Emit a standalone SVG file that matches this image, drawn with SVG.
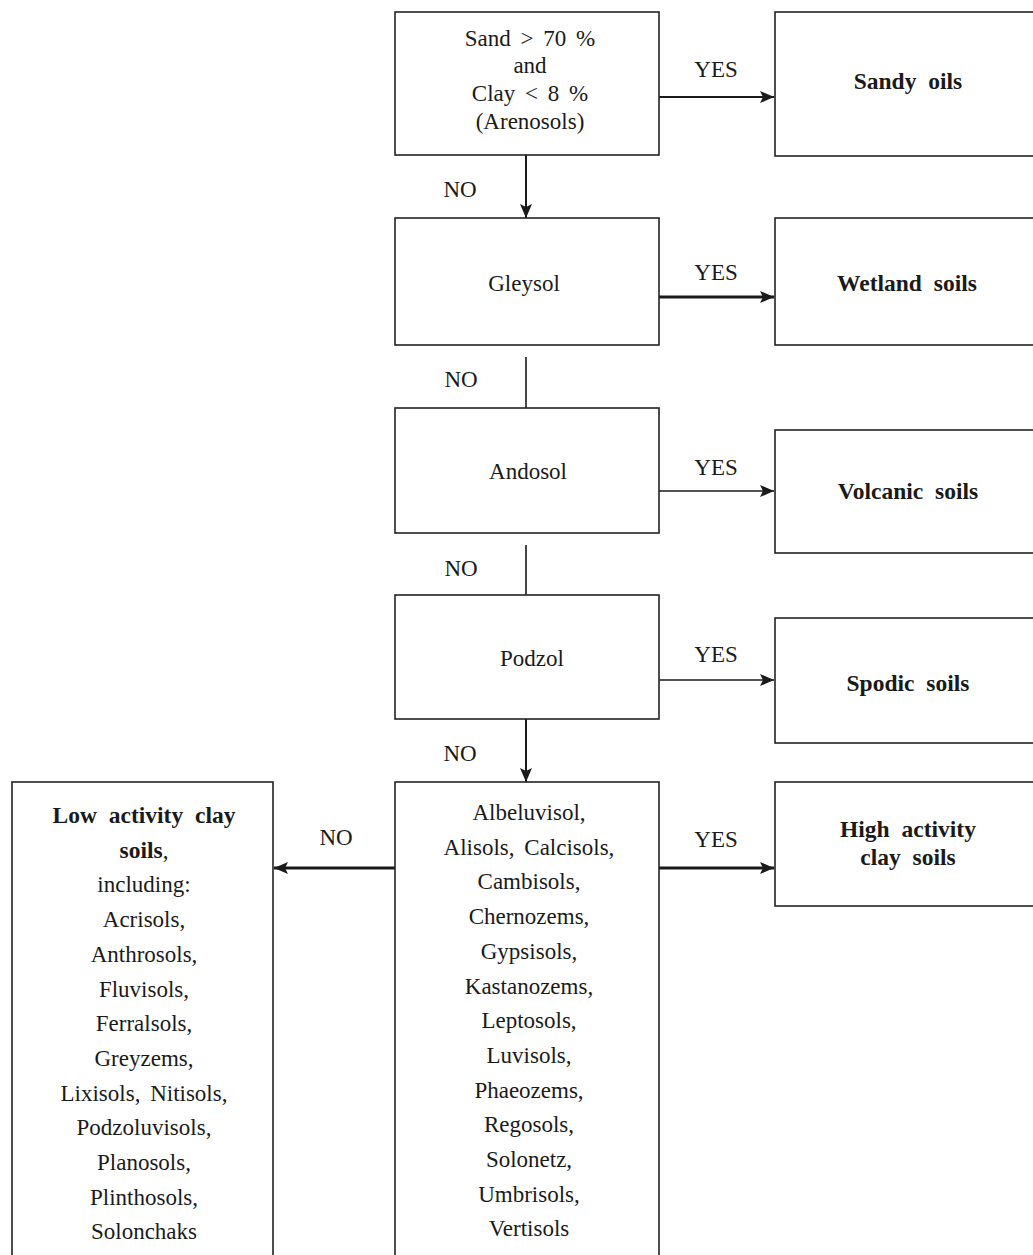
<svg xmlns="http://www.w3.org/2000/svg" width="1033" height="1255" viewBox="0 0 1033 1255">
<style>
  .box { fill: #fff; stroke: #222; stroke-width: 1.6; }
  .t { font-family: "Liberation Serif", "DejaVu Serif", serif; font-size: 23px; fill: #1a1a1a; text-anchor: middle; word-spacing: 4px; }
  .b { font-weight: bold; font-size: 23.5px; word-spacing: 6px; }
  .c { stroke: #1a1a1a; fill: none; }
</style>
<defs>
  <marker id="ah" viewBox="0 0 14 12" refX="14" refY="6" markerWidth="14" markerHeight="12" markerUnits="userSpaceOnUse" orient="auto">
    <path d="M0,0 L14,6 L0,12 L3,6 Z" fill="#1a1a1a"/>
  </marker>
</defs>
<rect width="1033" height="1255" fill="#fff"/>

<g id="connectors">
  <line class="c" x1="659" y1="97" x2="774" y2="97" stroke-width="2" marker-end="url(#ah)"/>
  <line class="c" x1="659" y1="297" x2="774" y2="297" stroke-width="3" marker-end="url(#ah)"/>
  <line class="c" x1="659" y1="491" x2="774" y2="491" stroke-width="1.6" marker-end="url(#ah)"/>
  <line class="c" x1="659" y1="680" x2="774" y2="680" stroke-width="1.6" marker-end="url(#ah)"/>
  <line class="c" x1="659" y1="868" x2="774" y2="868" stroke-width="3" marker-end="url(#ah)"/>
  <line class="c" x1="395" y1="868" x2="274" y2="868" stroke-width="3" marker-end="url(#ah)"/>
  <line class="c" x1="526" y1="155" x2="526" y2="218" stroke-width="2" marker-end="url(#ah)"/>
  <line class="c" x1="526" y1="357" x2="526" y2="408" stroke-width="1.6"/>
  <line class="c" x1="526" y1="545" x2="526" y2="595" stroke-width="1.6"/>
  <line class="c" x1="526" y1="719" x2="526" y2="782" stroke-width="2" marker-end="url(#ah)"/>
  <text class="t" x="716" y="77">YES</text>
  <text class="t" x="716" y="280">YES</text>
  <text class="t" x="716" y="475">YES</text>
  <text class="t" x="716" y="662">YES</text>
  <text class="t" x="716" y="847">YES</text>
  <text class="t" x="460" y="197">NO</text>
  <text class="t" x="461" y="387">NO</text>
  <text class="t" x="461" y="576">NO</text>
  <text class="t" x="460" y="761">NO</text>
  <text class="t" x="336" y="845">NO</text>
</g>

<g id="n-sand">
  <rect class="box" x="395" y="12" width="264" height="143"/>
  <text class="t" x="530" y="46" word-spacing="8">Sand &gt; 70 %</text>
  <text class="t" x="530" y="73">and</text>
  <text class="t" x="530" y="101" word-spacing="8">Clay &lt; 8 %</text>
  <text class="t" x="530" y="129">(Arenosols)</text>
</g>
<g id="n-sandy">
  <rect class="box" x="775" y="12" width="270" height="144"/>
  <text class="t b" x="908" y="89">Sandy oils</text>
</g>
<g id="n-gleysol">
  <rect class="box" x="395" y="218" width="264" height="127"/>
  <text class="t" x="524" y="291">Gleysol</text>
</g>
<g id="n-wetland">
  <rect class="box" x="775" y="218" width="270" height="127"/>
  <text class="t b" x="907" y="291">Wetland soils</text>
</g>
<g id="n-andosol">
  <rect class="box" x="395" y="408" width="264" height="125"/>
  <text class="t" x="528" y="479">Andosol</text>
</g>
<g id="n-volcanic">
  <rect class="box" x="775" y="430" width="270" height="123"/>
  <text class="t b" x="908" y="499">Volcanic soils</text>
</g>
<g id="n-podzol">
  <rect class="box" x="395" y="595" width="264" height="124"/>
  <text class="t" x="532" y="666">Podzol</text>
</g>
<g id="n-spodic">
  <rect class="box" x="775" y="618" width="270" height="125"/>
  <text class="t b" x="908" y="691">Spodic soils</text>
</g>
<g id="n-middle">
  <rect class="box" x="395" y="782" width="264" height="490"/>
  <text class="t" x="529" y="820">Albeluvisol,</text>
  <text class="t" x="529" y="855">Alisols, Calcisols,</text>
  <text class="t" x="529" y="889">Cambisols,</text>
  <text class="t" x="529" y="924">Chernozems,</text>
  <text class="t" x="529" y="959">Gypsisols,</text>
  <text class="t" x="529" y="994">Kastanozems,</text>
  <text class="t" x="529" y="1028">Leptosols,</text>
  <text class="t" x="529" y="1063">Luvisols,</text>
  <text class="t" x="529" y="1098">Phaeozems,</text>
  <text class="t" x="529" y="1132">Regosols,</text>
  <text class="t" x="529" y="1167">Solonetz,</text>
  <text class="t" x="529" y="1202">Umbrisols,</text>
  <text class="t" x="529" y="1236">Vertisols</text>
</g>
<g id="n-high">
  <rect class="box" x="775" y="782" width="270" height="124"/>
  <text class="t b" x="908" y="837">High activity</text>
  <text class="t b" x="908" y="865">clay soils</text>
</g>
<g id="n-low">
  <rect class="box" x="12" y="782" width="261" height="490"/>
  <text class="t b" x="144" y="823">Low activity clay</text>
  <text class="t" x="144" y="858"><tspan font-weight="bold" font-size="23.5">soils</tspan>,</text>
  <text class="t" x="144" y="892">including:</text>
  <text class="t" x="144" y="927">Acrisols,</text>
  <text class="t" x="144" y="962">Anthrosols,</text>
  <text class="t" x="144" y="997">Fluvisols,</text>
  <text class="t" x="144" y="1031">Ferralsols,</text>
  <text class="t" x="144" y="1066">Greyzems,</text>
  <text class="t" x="144" y="1101">Lixisols, Nitisols,</text>
  <text class="t" x="144" y="1135">Podzoluvisols,</text>
  <text class="t" x="144" y="1170">Planosols,</text>
  <text class="t" x="144" y="1205">Plinthosols,</text>
  <text class="t" x="144" y="1239">Solonchaks</text>
</g>
</svg>
